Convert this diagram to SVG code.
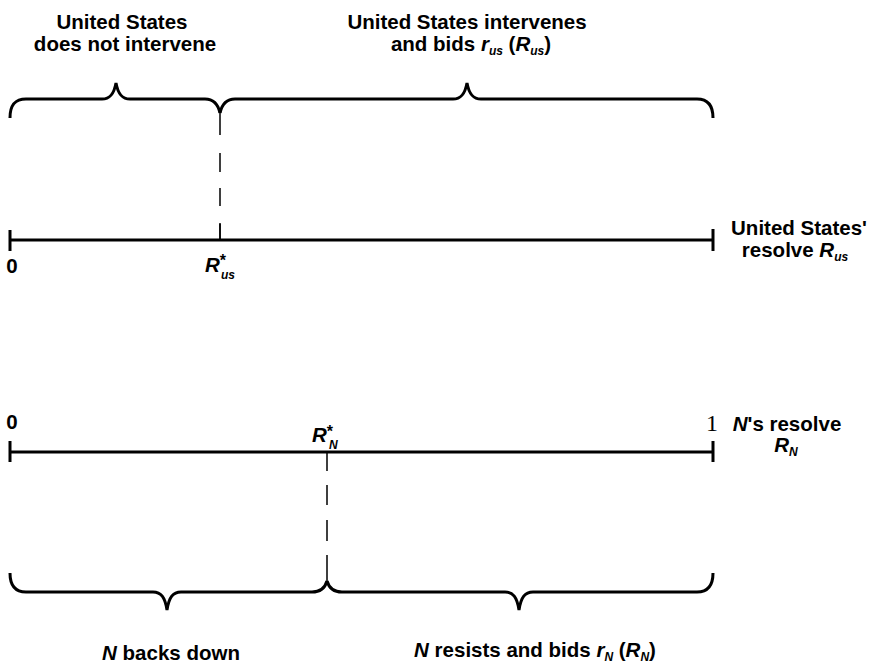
<svg xmlns="http://www.w3.org/2000/svg" width="869" height="665" viewBox="0 0 869 665">
<style>
text{font-family:"Liberation Sans",Arial,sans-serif;font-weight:bold;font-size:20.5px;fill:#000}
.c{text-anchor:middle}
.i{font-style:italic}
.s{font-size:12px;font-style:italic}
.st{font-size:16px;font-style:normal}
.serif{font-family:"Liberation Serif","Times New Roman",serif;font-weight:normal;font-size:24px}
.thick{stroke:#000;stroke-width:3;fill:none}
.thin{stroke:#000;stroke-width:1.5;fill:none}
</style>
<rect width="869" height="665" fill="#fff"/>
<g id="connectors">
<path class="thick" d="M10,240 H713 M10,230 V251 M713,229 V251"/>
<path class="thin" d="M220,224 V240"/>
<path class="thin" d="M220,113 V135 M220,153 V172 M220,188 V206 M220,223 V240"/>
<path class="thick" d="M10,452 H713 M10,441 V462 M713,441 V462"/>
<path class="thin" d="M327,452 V471 M327,485 V505 M327,520 V541 M327,555 V583"/>
</g>
<g id="brace-us-no">
<path class="thick" d="M10,118 C10,105 15,99 26,99 L102,99 C110,99 114,94 116,83 C118,94 122,99 130,99 L205,99 C213,99 218,104 220,113"/>
<text class="c" x="122" y="29">United States</text>
<text class="c" x="125" y="51">does not intervene</text>
</g>
<g id="brace-us-yes">
<path class="thick" d="M220,113 C222,104 227,99 235,99 L453,99 C461,99 465,94 467,83 C469,94 473,99 481,99 L697,99 C707,99 713,105 713,118"/>
<text class="c" x="467" y="29">United States intervenes</text>
<text class="c" x="471" y="51">and bids <tspan class="i">r</tspan><tspan class="s" dy="4">us</tspan><tspan dy="-4"> (</tspan><tspan class="i">R</tspan><tspan class="s" dy="4">us</tspan><tspan dy="-4">)</tspan></text>
</g>
<g id="axis-us-labels">
<text class="c" x="12" y="273">0</text>
<text x="205" y="272"><tspan class="i">R</tspan><tspan class="st" dy="-6">*</tspan><tspan class="s" x="221" dy="13">us</tspan></text>
<text class="c" x="799" y="235">United States'</text>
<text class="c" x="795" y="257">resolve <tspan class="i">R</tspan><tspan class="s" dy="4">us</tspan></text>
</g>
<g id="axis-n-labels">
<text class="c" x="12" y="429">0</text>
<text x="312" y="442"><tspan class="i">R</tspan><tspan class="st" dy="-5">*</tspan><tspan class="s" x="329" dy="12">N</tspan></text>
<text class="serif c" x="712" y="431">1</text>
<text class="c" x="787" y="431"><tspan class="i">N</tspan>'s resolve</text>
<text class="c" x="786" y="452"><tspan class="i">R</tspan><tspan class="s" dy="4">N</tspan></text>
</g>
<g id="brace-n-back">
<path class="thick" d="M10,573 C10,585 15,592 26,592 L153,592 C161,592 165,597 167,610 C169,597 173,592 181,592 L312,592 C320,592 325,588 327,581"/>
<text class="c" x="171" y="660"><tspan class="i">N</tspan> backs down</text>
</g>
<g id="brace-n-resist">
<path class="thick" d="M327,581 C329,588 334,592 342,592 L505,592 C513,592 517,597 519,610 C521,597 525,592 533,592 L697,592 C707,592 713,586 713,573"/>
<text class="c" x="535" y="657"><tspan class="i">N</tspan> resists and bids <tspan class="i">r</tspan><tspan class="s" dy="4">N</tspan><tspan dy="-4"> (</tspan><tspan class="i">R</tspan><tspan class="s" dy="4">N</tspan><tspan dy="-4">)</tspan></text>
</g>
</svg>
